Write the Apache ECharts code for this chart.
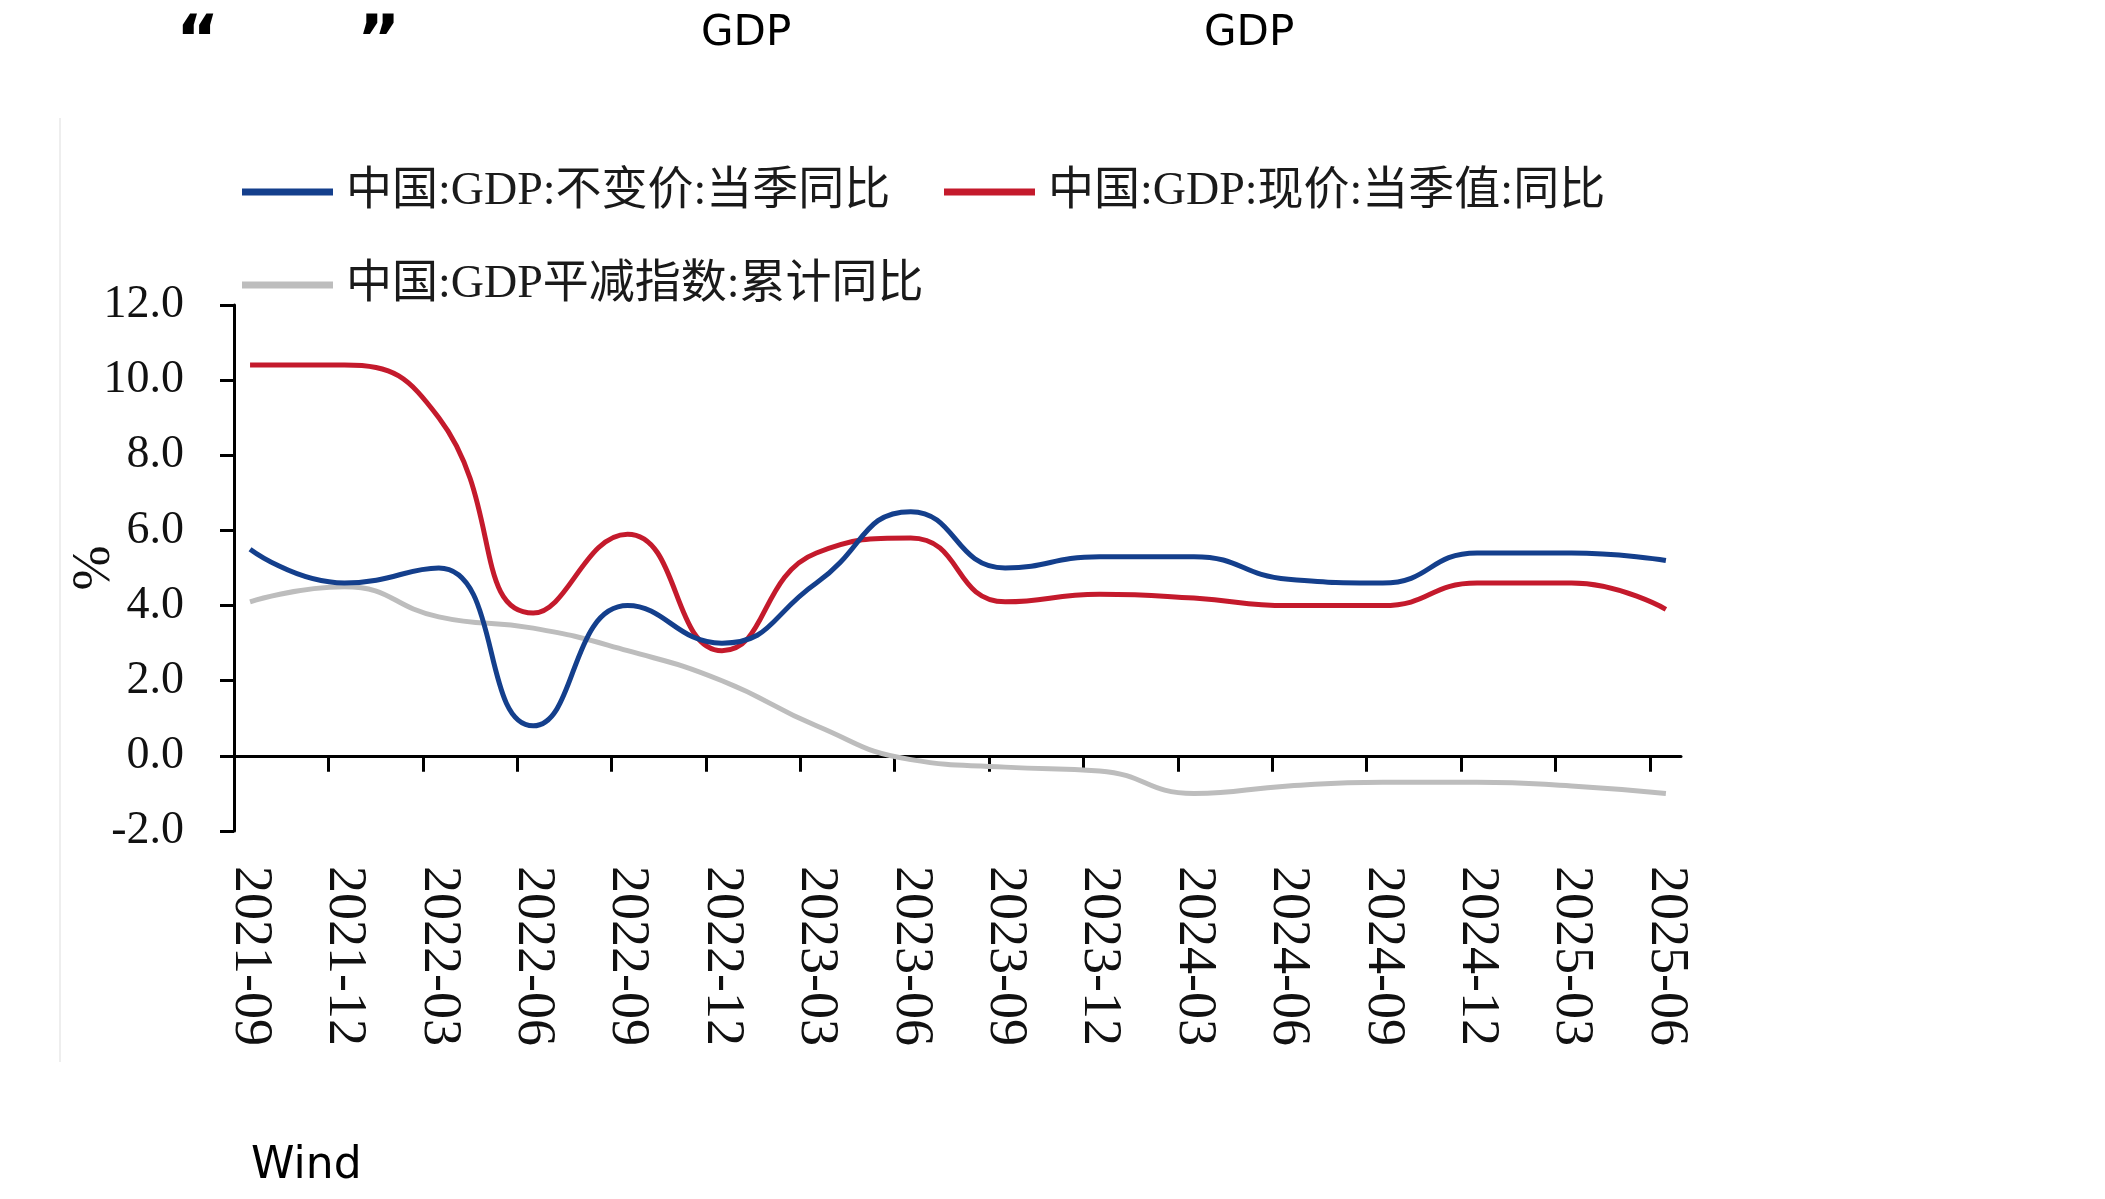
<!DOCTYPE html>
<html><head><meta charset="utf-8">
<script src="https://cdn.jsdelivr.net/npm/echarts@6/dist/echarts.min.js"></script>
<style>html,body{margin:0;padding:0;background:#fff}#c{width:2105px;height:1199px}</style>
</head><body><div id="c"></div>
<script>
// ---- data ----
const categories = ['2021-09','2021-12','2022-03','2022-06','2022-09','2022-12','2023-03','2023-06','2023-09','2023-12','2024-03','2024-06','2024-09','2024-12','2025-03','2025-06'];
const seriesNames = ['中国:GDP:不变价:当季同比','中国:GDP:现价:当季值:同比','中国:GDP平减指数:累计同比'];
const realGdp    = [5.5, 4.6, 5.0, 0.8, 4.0, 3.0, 4.6, 6.5, 5.0, 5.3, 5.3, 4.7, 4.6, 5.4, 5.4, 5.2];
const nominalGdp = [10.4, 10.4, 9.0, 3.8, 5.9, 2.8, 5.4, 5.8, 4.1, 4.3, 4.2, 4.0, 4.0, 4.6, 4.6, 3.9];
const deflator   = [4.1, 4.5, 3.7, 3.4, 2.8, 2.0, 0.8, -0.1, -0.3, -0.4, -1.0, -0.8, -0.7, -0.7, -0.8, -1.0];
const yMin = -2, yMax = 12, yStep = 2;

// ---- layout / style ----
const SERIF = "'Liberation Serif','Noto Sans CJK SC',serif";
const colors = ['#143f8c', '#c41a2c', '#bdbdbd'];
const TICK_SHIFT = -0.17;   // ticks sit slightly before each data point (date axis look)
const X_MIN = -0.17, X_MAX = 15.16;
const SMOOTH = 0.5;

const chart = echarts.init(document.getElementById('c'), null, {renderer: 'canvas'});
const pts = arr => arr.map((v, i) => [i, v]);

function legendAt(idx, left, top) {
  return {
    show: true, left: left, top: top, padding: 0, selectedMode: false,
    data: [seriesNames[idx]], icon: 'rect', itemWidth: 91, itemHeight: 7,
    textStyle: {fontFamily: SERIF, fontSize: 46, color: '#1a1a1a', lineHeight: 50, padding: [0, 0, 0, 8]}
  };
}

const option = {
  backgroundColor: '#fff',
  animation: false,
  grid: {left: 234, right: 2105 - 1681, top: 305, bottom: 1199 - 831, containLabel: false},
  legend: [legendAt(0, 242, 167), legendAt(1, 944, 167), legendAt(2, 242, 260)],
  xAxis: [
    { // axis line at zero with ticks
      type: 'value', position: 'bottom', min: X_MIN, max: X_MAX,
      axisLine: {show: true, onZero: true, lineStyle: {color: '#000', width: 3}},
      axisTick: {show: true, inside: false, length: 16, lineStyle: {color: '#000', width: 3},
                 customValues: categories.slice(1).map((_, i) => i + 1 + TICK_SHIFT)},
      axisLabel: {show: false}, splitLine: {show: false}
    },
    { // labels at the bottom
      type: 'value', position: 'bottom', min: X_MIN, max: X_MAX,
      axisLine: {show: false, onZero: false}, axisTick: {show: false}, splitLine: {show: false},
      axisLabel: {show: true, rotate: -90, margin: 35, fontFamily: SERIF, fontSize: 54, color: '#111',
                  customValues: categories.map((_, i) => i),
                  formatter: v => categories[Math.round(v)]}
    }
  ],
  yAxis: {
    type: 'value', min: yMin, max: yMax, interval: yStep,
    name: '%', nameLocation: 'middle', nameGap: 112, nameRotate: 90, nameMoveOverlap: false,
    nameTextStyle: {fontFamily: SERIF, fontSize: 54, color: '#111'},
    axisLine: {show: true, onZero: false, lineStyle: {color: '#000', width: 3}},
    axisTick: {show: true, inside: false, length: 14, lineStyle: {color: '#000', width: 3}},
    axisLabel: {margin: 50, fontFamily: SERIF, fontSize: 46, color: '#111', formatter: v => v.toFixed(1)},
    splitLine: {show: false}
  },
  series: [
    {name: seriesNames[2], type: 'line', xAxisIndex: 0, data: pts(deflator), smooth: SMOOTH, showSymbol: false,
     lineStyle: {color: colors[2], width: 5}, itemStyle: {color: colors[2]}, z: 2},
    {name: seriesNames[1], type: 'line', xAxisIndex: 0, data: pts(nominalGdp), smooth: SMOOTH, showSymbol: false,
     lineStyle: {color: colors[1], width: 5}, itemStyle: {color: colors[1]}, z: 3},
    {name: seriesNames[0], type: 'line', xAxisIndex: 0, data: pts(realGdp), smooth: SMOOTH, showSymbol: false,
     lineStyle: {color: colors[0], width: 5}, itemStyle: {color: colors[0]}, z: 4}
  ],
  graphic: [
    {type: 'line', shape: {x1: 60, y1: 118, x2: 60, y2: 1062}, style: {stroke: '#eeeeee', lineWidth: 2}, silent: true},
    {type: 'text', left: 176, top: 12, style: {text: '“', fontFamily: "'DejaVu Sans'", fontWeight: 'bold', fontSize: 66, fill: '#000'}},
    {type: 'text', left: 357, top: 12, style: {text: '”', fontFamily: "'DejaVu Sans'", fontWeight: 'bold', fontSize: 66, fill: '#000'}},
    {type: 'text', left: 701, top: 13, style: {text: 'GDP', fontFamily: "'DejaVu Sans'", fontSize: 42, fill: '#000'}},
    {type: 'text', left: 1204, top: 13, style: {text: 'GDP', fontFamily: "'DejaVu Sans'", fontSize: 42, fill: '#000'}},
    {type: 'text', left: 251, top: 1145, style: {text: 'Wind', fontFamily: "'DejaVu Sans'", fontSize: 44, fill: '#000'}}
  ]
};
chart.setOption(option);
</script>
</body></html>
